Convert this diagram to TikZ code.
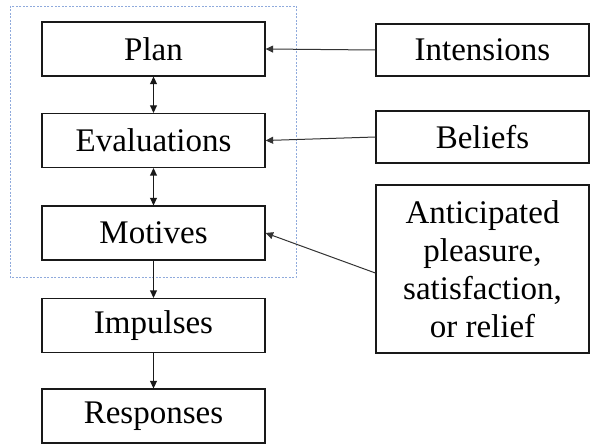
\documentclass[tikz,border=0pt]{standalone}
\usepackage{fontspec}
\setmainfont{Liberation Serif}
\usetikzlibrary{arrows.meta,calc}
\begin{document}
\begin{tikzpicture}[x=1pt,y=-1pt,
  box/.style={draw=black!90,line width=1.3pt,inner sep=0pt,font=\fontsize{33}{38}\selectfont,align=center},
  lbox/.style={box,minimum width=223pt,minimum height=54pt},
  rbox/.style={box,minimum width=213pt,minimum height=52pt},
  tip/.style={Triangle[length=7.5pt,width=7pt]},
  conn/.style={draw=black!80,line width=1pt,-{Triangle[length=7.5pt,width=7pt]}},
  vconn/.style={draw=black!90,line width=1.3pt,-{Triangle[length=7.5pt,width=7pt]}},
  dconn/.style={draw=black!90,line width=1.3pt,{Triangle[length=7.5pt,width=7pt]}-{Triangle[length=7.5pt,width=7pt]}},
  frame/.style={draw={rgb,255:red,143;green,170;blue,220},line width=0.8pt,dash pattern=on 2pt off 1.5pt}
]
\useasboundingbox (0,0) rectangle (590,444);
\draw[frame] (10,6) rectangle (296,277);
\node[lbox] (plan) at (153.5,49) {Plan};
\node[lbox] (eval) at (153.5,140.5) {Evaluations};
\node[lbox] (mot) at (153.5,233) {Motives};
\node[lbox] (imp) at (153.5,325.5) {Impulses};
\node[lbox] (resp) at (153.5,416) {Responses};
\node[rbox] (int) at (482.5,50) {Intensions};
\node[rbox] (bel) at (482.5,137) {Beliefs};
\node[box,minimum width=213pt,minimum height=168pt] (ant) at (482.5,269) {Anticipated\\pleasure,\\satisfaction,\\or relief};
\draw[conn] (int.west) -- (plan.east);
\draw[conn] (bel.west) -- (eval.east);
\draw[conn] ($(ant.west)+(0,4)$) -- (mot.east);
\draw[dconn] (plan.south) -- (eval.north);
\draw[dconn] (eval.south) -- (mot.north);
\draw[vconn] (mot.south) -- (imp.north);
\draw[vconn] (imp.south) -- (resp.north);
\end{tikzpicture}
\end{document}
